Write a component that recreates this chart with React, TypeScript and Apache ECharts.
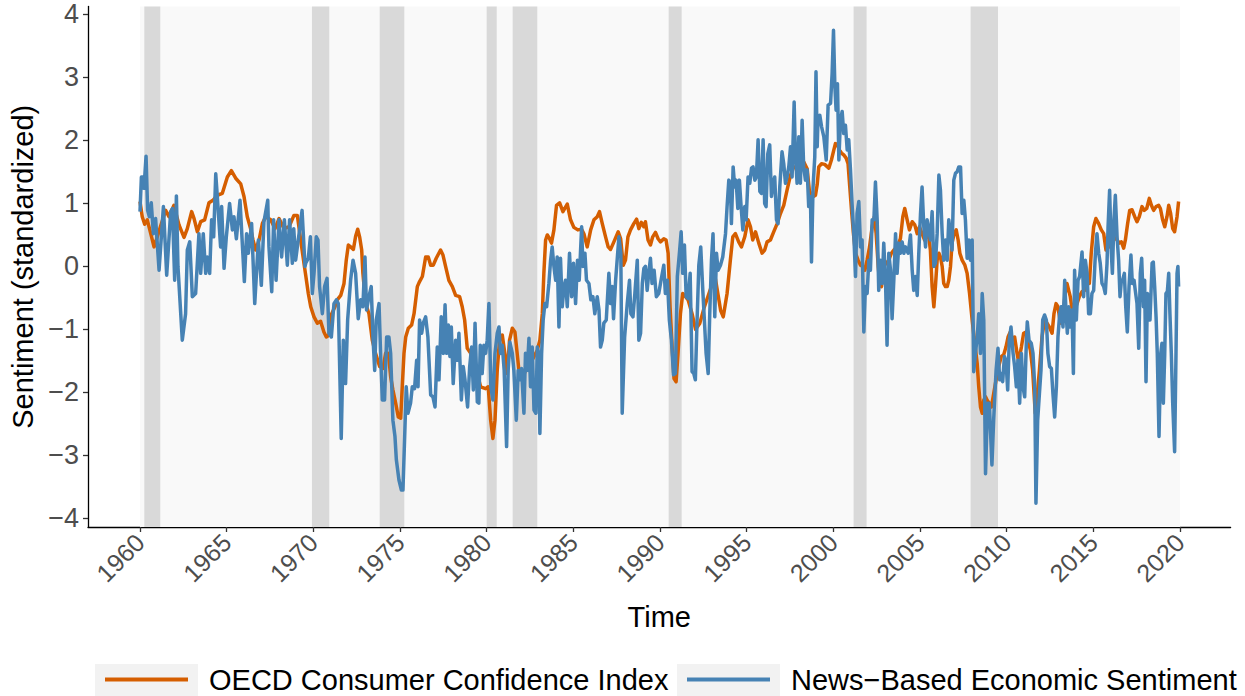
import React, { useEffect, useRef } from "react";
import * as echarts from "echarts";

const xTicks = [1960, 1965, 1970, 1975, 1980, 1985, 1990, 1995, 2000, 2005, 2010, 2015, 2020];
const yTicks = [-4, -3, -2, -1, 0, 1, 2, 3, 4];

const recessionStart = [1960.25, 1969.92, 1973.83, 1980.0, 1981.5, 1990.5, 2001.17, 2007.92];
const recessionEnd = [1961.17, 1970.92, 1975.25, 1980.58, 1982.92, 1991.25, 2001.92, 2009.5];

const oecdTime = [
  1960.0, 1960.13, 1960.27, 1960.42, 1960.62, 1960.81, 1961.0, 1961.2, 1961.48, 1961.67, 1961.96, 1962.25, 1962.54, 1962.73, 1962.98,
  1963.12, 1963.31, 1963.5, 1963.73, 1963.98, 1964.21, 1964.46, 1964.75, 1965.04, 1965.27, 1965.52, 1965.81, 1966.0, 1966.19,
  1966.38, 1966.52, 1966.67, 1966.87, 1967.06, 1967.25, 1967.54, 1967.79, 1968.02, 1968.31, 1968.6, 1968.88, 1969.08, 1969.27,
  1969.46, 1969.56, 1969.71, 1969.85, 1970.04, 1970.23, 1970.42, 1970.61, 1970.75, 1970.9, 1971.06, 1971.25, 1971.38, 1971.58,
  1971.77, 1971.9, 1972.02, 1972.15, 1972.31, 1972.44, 1972.56, 1972.67, 1972.79, 1972.86, 1973.02, 1973.21, 1973.4, 1973.59,
  1973.83, 1974.02, 1974.17, 1974.33, 1974.46, 1974.59, 1974.75, 1974.9, 1975.04, 1975.13, 1975.23, 1975.33, 1975.48, 1975.67,
  1975.81, 1976.0, 1976.13, 1976.29, 1976.48, 1976.63, 1976.77, 1976.92, 1977.09, 1977.34, 1977.48, 1977.63, 1977.82, 1978.02,
  1978.21, 1978.44, 1978.59, 1978.73, 1978.88, 1979.08, 1979.27, 1979.46, 1979.65, 1979.94, 1980.09, 1980.23, 1980.36, 1980.48,
  1980.61, 1980.74, 1980.9, 1981.05, 1981.19, 1981.32, 1981.48, 1981.63, 1981.76, 1981.86, 1982.05, 1982.3, 1982.6, 1982.92,
  1983.07, 1983.21, 1983.3, 1983.4, 1983.5, 1983.63, 1983.74, 1983.88, 1984.03, 1984.21, 1984.4, 1984.65, 1984.84, 1985.03,
  1985.26, 1985.48, 1985.61, 1985.8, 1986.0, 1986.19, 1986.38, 1986.51, 1986.67, 1986.86, 1987.01, 1987.15, 1987.34, 1987.59,
  1987.73, 1987.88, 1988.01, 1988.15, 1988.3, 1988.49, 1988.65, 1988.78, 1988.92, 1989.07, 1989.16, 1989.31, 1989.45, 1989.58,
  1989.74, 1989.89, 1990.03, 1990.22, 1990.35, 1990.47, 1990.58, 1990.7, 1990.81, 1990.93, 1991.04, 1991.18, 1991.31, 1991.47,
  1991.62, 1991.85, 1992.05, 1992.3, 1992.55, 1992.8, 1993.05, 1993.2, 1993.5, 1993.65, 1993.87, 1994.06, 1994.2, 1994.35,
  1994.54, 1994.7, 1994.89, 1995.08, 1995.22, 1995.35, 1995.51, 1995.7, 1995.89, 1996.04, 1996.18, 1996.37, 1996.56, 1996.76,
  1996.95, 1997.14, 1997.33, 1997.53, 1997.72, 1997.91, 1998.1, 1998.29, 1998.49, 1998.62, 1998.8, 1998.97, 1999.07, 1999.16,
  1999.32, 1999.5, 1999.74, 1999.89, 2000.03, 2000.12, 2000.24, 2000.35, 2000.47, 2000.6, 2000.74, 2000.85, 2000.95, 2001.05,
  2001.16, 2001.28, 2001.43, 2001.57, 2001.7, 2001.82, 2001.95, 2002.09, 2002.24, 2002.37, 2002.47, 2002.59, 2002.68, 2002.78,
  2002.91, 2003.05, 2003.2, 2003.35, 2003.49, 2003.68, 2003.87, 2004.01, 2004.12, 2004.26, 2004.39, 2004.55, 2004.7, 2004.84,
  2004.97, 2005.12, 2005.26, 2005.37, 2005.51, 2005.6, 2005.7, 2005.8, 2005.89, 2005.99, 2006.09, 2006.18, 2006.28, 2006.37,
  2006.47, 2006.57, 2006.66, 2006.76, 2006.85, 2006.97, 2007.09, 2007.2, 2007.3, 2007.43, 2007.59, 2007.72, 2007.86, 2008.01,
  2008.16, 2008.3, 2008.39, 2008.49, 2008.59, 2008.68, 2008.78, 2008.87, 2009.0, 2009.12, 2009.25, 2009.39, 2009.54, 2009.69,
  2009.83, 2009.96, 2010.08, 2010.21, 2010.35, 2010.46, 2010.6, 2010.69, 2010.85, 2010.98, 2011.12, 2011.23, 2011.37, 2011.5,
  2011.65, 2011.77, 2011.89, 2012.04, 2012.19, 2012.33, 2012.46, 2012.62, 2012.73, 2012.85, 2012.96, 2013.1, 2013.23, 2013.38,
  2013.48, 2013.58, 2013.67, 2013.81, 2013.92, 2014.06, 2014.19, 2014.35, 2014.5, 2014.64, 2014.77, 2014.88, 2015.02, 2015.15,
  2015.31, 2015.46, 2015.6, 2015.73, 2015.89, 2016.04, 2016.17, 2016.37, 2016.5, 2016.62, 2016.75, 2016.85, 2016.98, 2017.1,
  2017.23, 2017.39, 2017.52, 2017.65, 2017.81, 2017.94, 2018.08, 2018.23, 2018.35, 2018.48, 2018.62, 2018.77, 2018.87, 2019.0,
  2019.12, 2019.25, 2019.35, 2019.46, 2019.58, 2019.69, 2019.83, 2019.92,
];
const oecdValue = [
  1.03, 0.79, 0.67, 0.74, 0.52, 0.31, 0.47, 0.65, 0.89, 0.79, 0.97, 0.66, 0.46, 0.6, 0.87,
  0.76, 0.55, 0.71, 0.74, 1.01, 1.05, 1.13, 1.16, 1.42, 1.52, 1.4, 1.31, 1.11, 0.79,
  0.6, 0.42, 0.26, 0.42, 0.68, 0.79, 0.74, 0.6, 0.76, 0.6, 0.63, 0.81, 0.81, 0.42,
  0.05, -0.14, -0.43, -0.64, -0.8, -0.9, -0.87, -1.04, -1.12, -1.09, -0.75, -0.64, -0.53, -0.46,
  -0.27, 0.1, 0.34, 0.31, 0.27, 0.48, 0.59, 0.47, 0.26, -0.11, -0.59, -0.75, -1.17, -1.38,
  -1.59, -1.62, -1.38, -1.38, -1.75, -1.96, -2.17, -2.39, -2.41, -1.91, -1.38, -1.12, -0.98, -0.93,
  -0.75, -0.32, -0.24, -0.16, 0.15, 0.15, 0.02, 0.02, 0.13, 0.26, 0.18, 0.0, -0.22, -0.32,
  -0.46, -0.48, -0.64, -0.85, -1.3, -1.38, -1.59, -1.7, -1.91, -1.94, -1.91, -2.44, -2.73, -2.44,
  -1.65, -1.17, -1.09, -1.38, -1.7, -1.17, -0.98, -1.04, -1.38, -1.65, -1.8, -1.6, -1.5, -1.33,
  -1.17, -0.75, -0.11, 0.42, 0.5, 0.44, 0.37, 0.58, 0.97, 1.01, 0.87, 0.99, 0.74, 0.62,
  0.58, 0.59, 0.52, 0.31, 0.58, 0.74, 0.79, 0.87, 0.68, 0.47, 0.31, 0.27, 0.39, 0.55,
  0.44, 0.02, 0.1, 0.47, 0.58, 0.68, 0.75, 0.6, 0.7, 0.63, 0.71, 0.42, 0.34, 0.47,
  0.54, 0.44, 0.39, 0.44, 0.42, 0.21, -0.64, -1.28, -1.78, -1.83, -1.38, -0.75, -0.43, -0.48,
  -0.53, -0.75, -1.0, -0.9, -0.65, -0.45, -0.25, -0.2, -0.7, -0.8, -0.43, 0.1, 0.47, 0.52,
  0.39, 0.31, 0.47, 0.74, 0.63, 0.42, 0.55, 0.37, 0.21, 0.26, 0.39, 0.42, 0.55, 0.68,
  0.84, 0.97, 1.21, 1.45, 1.58, 1.58, 1.58, 1.66, 1.55, 1.2, 1.1, 1.13, 1.3, 1.58,
  1.63, 1.62, 1.56, 1.69, 1.85, 1.95, 1.93, 1.85, 1.8, 1.77, 1.72, 1.63, 1.26, 0.89,
  0.52, 0.21, 0.1, 0.02, 0.0, -0.06, 0.1, 0.31, 0.63, 0.79, 0.52, 0.0, -0.27, -0.32,
  0.0, 0.05, 0.1, 0.21, 0.26, 0.31, 0.44, 0.79, 0.92, 0.74, 0.58, 0.71, 0.66, 0.52,
  0.63, 0.52, 0.42, 0.47, 0.47, 0.26, -0.32, -0.64, -0.32, 0.1, 0.21, 0.15, 0.0, -0.27,
  -0.32, -0.32, -0.22, 0.0, 0.37, 0.52, 0.58, 0.42, 0.21, 0.1, 0.02, -0.11, -0.43, -0.85,
  -1.22, -1.54, -1.91, -2.23, -2.33, -2.12, -2.07, -2.12, -2.17, -2.23, -2.02, -1.8, -1.59, -1.43,
  -1.4, -1.28, -1.12, -1.04, -1.17, -1.12, -1.38, -1.51, -1.28, -1.06, -1.04, -1.17, -1.33, -1.65,
  -2.33, -2.02, -1.65, -1.12, -0.85, -0.9, -0.96, -1.06, -0.75, -0.59, -0.64, -0.9, -0.85, -0.43,
  -0.27, -0.38, -0.48, -0.75, -0.69, -0.59, -0.48, -0.4, -0.38, -0.27, -0.27, 0.21, 0.63, 0.76,
  0.68, 0.58, 0.52, 0.26, 0.31, 0.42, 0.47, 0.42, 0.37, 0.39, 0.29, 0.42, 0.68, 0.89,
  0.9, 0.79, 0.71, 0.79, 0.95, 0.89, 0.92, 1.08, 0.97, 0.89, 0.95, 0.97, 0.92, 0.74,
  0.63, 0.79, 0.97, 0.84, 0.6, 0.55, 0.79, 1.03,
];

const newsTime = [
  1960.0, 1960.08, 1960.17, 1960.23, 1960.35, 1960.44, 1960.54, 1960.65, 1960.77, 1960.9, 1961.1, 1961.35, 1961.54, 1961.77,
  1961.87, 1962.0, 1962.1, 1962.19, 1962.44, 1962.63, 1962.73, 1962.87, 1963.02, 1963.21, 1963.4, 1963.5, 1963.65, 1963.79,
  1963.88, 1964.02, 1964.13, 1964.25, 1964.37, 1964.46, 1964.65, 1964.71, 1964.85, 1964.98, 1965.17, 1965.33, 1965.42, 1965.56,
  1965.77, 1966.02, 1966.15, 1966.25, 1966.44, 1966.62, 1966.83, 1967.0, 1967.15, 1967.37, 1967.44, 1967.6, 1967.71, 1967.85,
  1968.02, 1968.17, 1968.33, 1968.5, 1968.63, 1968.79, 1968.87, 1968.98, 1969.35, 1969.52,
  1969.56, 1969.71, 1969.83, 1969.94, 1970.04, 1970.17, 1970.27, 1970.36, 1970.52, 1970.65, 1970.79, 1970.9, 1971.04, 1971.19,
  1971.33, 1971.44, 1971.61, 1971.73, 1971.86, 1971.98, 1972.15, 1972.29, 1972.44, 1972.59, 1972.73, 1972.86, 1972.98, 1973.07,
  1973.21, 1973.34, 1973.44, 1973.54, 1973.63, 1973.79, 1973.88, 1973.98, 1974.11, 1974.23, 1974.36, 1974.46, 1974.59, 1974.71,
  1974.79, 1974.94, 1975.08, 1975.17, 1975.27, 1975.36, 1975.46, 1975.61, 1975.71, 1975.84, 1975.96, 1976.04, 1976.13, 1976.25,
  1976.34, 1976.48, 1976.61, 1976.77, 1976.9, 1977.02, 1977.15, 1977.25, 1977.38, 1977.5, 1977.6, 1977.69, 1977.79, 1977.88,
  1977.96, 1978.07, 1978.21, 1978.31, 1978.4, 1978.54, 1978.65, 1978.75, 1978.9, 1979.02, 1979.13, 1979.23, 1979.33,
  1979.46, 1979.55, 1979.63, 1979.74, 1979.84, 1979.94, 1980.03, 1980.13, 1980.24, 1980.36, 1980.48, 1980.61, 1980.71, 1980.8,
  1980.9, 1981.01, 1981.15, 1981.24, 1981.34, 1981.48, 1981.57, 1981.71, 1981.82, 1981.92, 1982.01, 1982.15, 1982.24, 1982.34,
  1982.44, 1982.53, 1982.63, 1982.73, 1982.84, 1982.92, 1983.01, 1983.07, 1983.17, 1983.26, 1983.36, 1983.46, 1983.59, 1983.69,
  1983.78, 1983.88, 1983.98, 1984.07, 1984.17, 1984.26, 1984.36, 1984.46, 1984.55, 1984.65, 1984.78, 1984.9, 1985.01, 1985.13,
  1985.24, 1985.34, 1985.48, 1985.55, 1985.67, 1985.76, 1985.9, 1986.01, 1986.13, 1986.24, 1986.38, 1986.48, 1986.57, 1986.67,
  1986.76, 1986.9, 1987.05, 1987.15, 1987.24, 1987.32, 1987.44, 1987.63, 1987.74, 1987.82, 1987.96, 1988.11, 1988.24, 1988.32,
  1988.44, 1988.55, 1988.69, 1988.78, 1988.88, 1988.98, 1989.07,
  1989.16, 1989.26, 1989.35, 1989.45, 1989.54, 1989.66, 1989.79, 1989.93, 1990.06, 1990.22, 1990.31, 1990.43, 1990.54, 1990.66,
  1990.78, 1990.89, 1991.0, 1991.12, 1991.22, 1991.31, 1991.41, 1991.51, 1991.62, 1991.74, 1991.85, 1991.95, 1992.04, 1992.14,
  1992.24, 1992.35, 1992.47, 1992.56, 1992.66, 1992.78, 1992.87, 1992.97, 1993.06, 1993.16, 1993.26, 1993.35, 1993.49, 1993.62,
  1993.78, 1993.87, 1993.97, 1994.06, 1994.12, 1994.22, 1994.31, 1994.39, 1994.49, 1994.58, 1994.68, 1994.78, 1994.89, 1994.97,
  1995.08, 1995.18, 1995.28, 1995.37, 1995.47, 1995.56, 1995.66, 1995.76, 1995.85, 1995.95, 1996.04, 1996.12, 1996.22, 1996.33,
  1996.43, 1996.53, 1996.62, 1996.72, 1996.81, 1996.91, 1997.04, 1997.14, 1997.24, 1997.33, 1997.43, 1997.53, 1997.62, 1997.74,
  1997.81, 1997.91, 1998.01, 1998.1, 1998.2, 1998.29, 1998.39, 1998.49, 1998.58, 1998.68, 1998.74, 1998.83, 1998.93, 1999.0,
  1999.07, 1999.12, 1999.22, 1999.32, 1999.45, 1999.59, 1999.7, 1999.84, 1999.93, 2000.01, 2000.09, 2000.16, 2000.24, 2000.32,
  2000.41, 2000.51, 2000.6, 2000.7, 2000.8, 2000.89, 2000.99, 2001.09, 2001.18, 2001.28, 2001.37, 2001.47, 2001.57, 2001.66,
  2001.76, 2001.85, 2001.95, 2002.05, 2002.14, 2002.24, 2002.34, 2002.43, 2002.53, 2002.62, 2002.72, 2002.82, 2002.91, 2003.01,
  2003.1, 2003.2, 2003.3, 2003.39, 2003.49, 2003.59, 2003.68, 2003.78, 2003.87, 2003.97, 2004.07, 2004.16, 2004.32, 2004.45,
  2004.55, 2004.64, 2004.74, 2004.84, 2004.93, 2005.03, 2005.12, 2005.22, 2005.32, 2005.41, 2005.51, 2005.6, 2005.7, 2005.8,
  2005.89, 2005.99, 2006.09, 2006.18, 2006.28, 2006.37, 2006.47, 2006.57, 2006.66, 2006.76, 2006.85, 2006.95, 2007.05, 2007.14,
  2007.24, 2007.34, 2007.43, 2007.53, 2007.62, 2007.72, 2007.82, 2007.91, 2008.01, 2008.1, 2008.2, 2008.3, 2008.39, 2008.49,
  2008.59, 2008.68, 2008.78, 2008.9, 2009.0, 2009.15,
  2009.25, 2009.39, 2009.5, 2009.6, 2009.69, 2009.77, 2009.87, 2009.96, 2010.06, 2010.15, 2010.25, 2010.37, 2010.46, 2010.56,
  2010.65, 2010.75, 2010.85, 2010.94, 2011.04, 2011.14, 2011.19, 2011.29, 2011.42, 2011.52, 2011.62, 2011.69, 2011.79, 2011.89,
  2011.98, 2012.08, 2012.19, 2012.29, 2012.38, 2012.48, 2012.58, 2012.67, 2012.77, 2012.87, 2012.96, 2013.06, 2013.15, 2013.25,
  2013.35, 2013.42, 2013.5, 2013.58, 2013.67, 2013.77, 2013.85, 2013.92, 2014.02, 2014.12, 2014.21, 2014.35, 2014.44, 2014.54,
  2014.64, 2014.73, 2014.83, 2014.92, 2015.02, 2015.12, 2015.21, 2015.31, 2015.4, 2015.5, 2015.6, 2015.69, 2015.79, 2015.85,
  2015.94, 2016.04, 2016.1, 2016.19, 2016.27, 2016.37, 2016.46, 2016.54, 2016.62, 2016.69, 2016.79, 2016.87, 2016.96, 2017.06,
  2017.17, 2017.25, 2017.35, 2017.42, 2017.52, 2017.62, 2017.71, 2017.79, 2017.89, 2017.96, 2018.04, 2018.12, 2018.19, 2018.27,
  2018.39, 2018.46, 2018.54, 2018.62, 2018.69, 2018.79, 2018.89, 2018.96, 2019.04, 2019.12, 2019.19, 2019.27, 2019.35, 2019.42,
  2019.5, 2019.58, 2019.69, 2019.77, 2019.83, 2019.88, 2019.92,
];
const newsValue = [
  0.87, 1.42, 1.42, 1.24, 1.75, 0.89, 0.79, 1.01, 0.52, 0.76, -0.06, 0.95, -0.14, 0.87,
  0.92, -0.22, 1.12, 0.0, -1.17, -0.75, 0.26, 0.39, -0.48, -0.43, 0.52, -0.11, 0.52, -0.11,
  0.15, -0.11, 0.74, 0.47, 1.47, 1.11, 0.31, 0.95, -0.03, 0.47, 1.0, 0.58, 0.79, 0.44,
  1.05, -0.24, 0.52, 0.21, 0.68, -0.59, 0.42, -0.3, 0.71, 1.05, 0.31, -0.4, 0.74, -0.22,
  0.74, 0.15, 0.74, 0.02, 0.74, 0.05, 0.6, 0.1, 0.89, 0.0,
  0.05, 0.13, 0.47, -0.43, -0.11, 0.47, 0.42, -0.32, -0.75, -0.32, -0.19, -1.06, -1.12, -0.59,
  -0.53, -0.59, -2.73, -1.17, -1.86, -0.85, -0.22, 0.1, -0.11, -0.83, -0.53, -0.64, 0.15, -0.69,
  -0.48, -0.32, -1.12, -1.65, -0.85, -0.59, -1.38, -2.12, -2.12, -1.12, -1.12, -1.38, -2.44, -2.7,
  -3.07, -3.39, -3.55, -3.55, -2.7, -1.91, -2.33, -2.17, -1.91, -1.94, -1.49, -1.91, -0.85, -1.06,
  -0.9, -0.8, -1.12, -2.04, -2.07, -2.23, -1.28, -1.8, -0.8, -1.38, -0.61, -1.38, -0.93, -1.43,
  -0.96, -1.86, -1.17, -1.49, -1.06, -2.12, -1.59, -1.8, -2.23, -1.59, -1.28, -1.96, -0.9,
  -2.15, -2.17, -1.25, -1.7, -1.25, -1.38, -1.17, -0.59, -1.91, -2.12, -1.38, -1.06, -0.96, -1.38,
  -1.25, -1.65, -2.86, -1.65, -1.2, -1.38, -1.65, -2.44, -1.65, -1.8, -1.62, -2.33, -1.38, -1.65,
  -1.14, -1.91, -1.28, -2.28, -2.33, -1.28, -1.38, -2.65, -1.38, -0.85, -0.59, -0.64, -0.27, 0.1,
  0.31, 0.0, -0.22, 0.15, -0.96, 0.13, -0.64, -0.32, -0.22, -0.64, 0.21, -0.48, 0.05, -0.59,
  0.1, -0.22, 0.63, 0.0, 0.21, -0.22, -0.27, -0.53, -0.48, -0.75, -0.48, -0.69, -1.28, -1.17,
  -0.9, -0.85, -0.11, -0.59, -0.32, -0.83, -0.22, 0.47, 0.21, -2.33, -1.12, -0.59, -0.22, -0.75,
  -0.8, -0.43, 0.1, -1.17, -1.06, -0.27, -0.03,
  0.0, -0.38, -0.11, 0.13, -0.27, -0.06, -0.48, -0.43, -0.22, 0.02, -0.43, -0.22, -0.85, -1.17,
  -1.72, -1.7, -0.16, 0.21, 0.55, -0.11, 0.34, -0.48, -0.51, -0.11, -1.67, -1.7, -1.8, -0.85,
  0.02, 0.31, -0.38, -0.85, -1.38, -1.7, -0.75, 0.1, 0.52, -0.8, 0.21, -0.06, 0.02, 0.15,
  0.52, 0.95, 1.37, 1.32, 0.68, 1.58, 1.26, 1.37, 0.92, 1.37, 0.95, 0.58, 0.95, 0.74,
  1.42, 1.32, 1.56, 1.58, 1.37, 1.42, 2.01, 1.19, 1.16, 2.01, 1.0, 0.95, 1.79, 1.93,
  1.11, 1.32, 1.42, 0.74, 0.68, 1.26, 1.82, 1.63, 1.32, 1.42, 1.58, 1.9, 1.42, 2.61,
  1.79, 1.32, 2.06, 1.32, 2.32, 1.58, 1.37, 1.53, 0.95, 1.11, 0.07, 1.26, 1.74, 3.09,
  1.9, 2.38, 2.4, 2.22, 2.06, 1.69, 2.56, 2.59, 3.06, 3.75, 2.85, 2.48, 2.9, 1.69,
  2.32, 2.46, 2.11, 2.24, 1.85, 2.01, 1.53, 0.95, 0.52, -0.16, 0.84, 1.03, 0.31, 0.42,
  -1.04, -0.32, -0.43, 0.1, -0.06, 0.74, 0.74, 1.34, 0.74, -0.38, 0.1, -0.27, 0.37, -0.22,
  -1.25, 0.21, -0.06, -0.83, -0.22, 0.52, -0.11, 0.37, 0.21, 0.39, 0.21, 0.31, 0.21, 0.5,
  -0.06, -0.38, -0.16, -0.46, 0.21, 0.84, 1.26, 0.63, 0.31, 0.74, 0.58, 0.42, 0.87, 0.0,
  0.05, 0.52, 1.45, 1.21, 0.52, 0.1, 0.42, 0.1, 0.74, 0.52, 0.26, 1.37, 1.48, 1.5,
  1.58, 1.58, 0.84, 1.05, 0.74, 0.13, 0.42, 0.1, 0.42, -1.67, -1.38, -1.12, -0.75, -1.38,
  -0.43, -0.85, -3.29, -2.17, -2.17, -3.15,
  -2.44, -1.65, -1.3, -1.8, -1.7, -1.83, -1.43, -1.49, -1.96, -1.17, -0.96, -1.38, -1.59, -1.91,
  -1.49, -2.17, -1.38, -1.91, -2.07, -1.17, -0.88, -1.17, -1.22, -1.38, -1.91, -3.76, -2.44, -2.02,
  -1.65, -0.85, -0.77, -0.85, -1.38, -1.59, -1.62, -2.02, -2.39, -1.91, -1.12, -0.75, -0.64, -0.96,
  -0.22, -0.69, -1.06, -0.64, -0.96, -0.69, -1.7, -0.06, -0.85, -0.22, -0.16, 0.23, -0.48, 0.1,
  -0.11, -0.75, -0.75, -0.43, -0.38, 0.21, 0.52, 0.21, 0.05, -0.27, -0.32, -0.43, 0.05, 0.63,
  1.21, 0.21, -0.11, 0.74, 1.13, 0.47, 0.1, -0.48, -0.22, -0.22, -0.11, -0.64, -1.04, -0.32,
  0.18, -0.27, -0.22, -0.38, -0.59, -1.3, -0.11, 0.13, -0.64, -0.22, -1.83, -0.43, -0.48, -0.85,
  0.05, 0.07, -0.32, -0.8, -1.38, -2.7, -1.38, -1.22, -2.17, -1.38, -0.43, -0.4, -0.11, -0.75,
  -1.38, -2.17, -2.94, -1.38, -0.11, 0.0, -0.32,
];

const OECD_NAME = "OECD Consumer Confidence Index";
const NEWS_NAME = "News\u2212Based Economic Sentiment";
const FONT = "'Liberation Sans', Arial, Helvetica, sans-serif";

export default function App() {
  const ref = useRef<HTMLDivElement>(null);

  useEffect(() => {
    if (!ref.current) return;
    const chart = echarts.init(ref.current, null, { renderer: "svg" });

    const oecdData = oecdTime.map((t, i) => [t, oecdValue[i]]);
    const newsData = newsTime.map((t, i) => [t, newsValue[i]]);
    const areas: any[] = [
      [{ xAxis: 1960, itemStyle: { color: "#f9f9f9" } }, { xAxis: 2020 }],
    ];
    recessionStart.forEach((s, i) => {
      areas.push([{ xAxis: s, itemStyle: { color: "#d9d9d9" } }, { xAxis: recessionEnd[i] }]);
    });

    const legendCommon = {
      orient: "horizontal",
      top: 665,
      itemWidth: 83,
      itemHeight: 4,
      itemGap: 0,
      padding: 0,
      selectedMode: false,
      textStyle: { fontSize: 29, color: "#000", fontFamily: FONT, padding: [0, 0, 0, 16] },
    };

    chart.setOption({
      animation: false,
      textStyle: { fontFamily: FONT },
      grid: { left: 87, right: 14.4, top: 6.5, bottom: 169, containLabel: false },
      xAxis: {
        type: "value",
        min: 1957,
        max: 2022.92,
        name: "Time",
        nameLocation: "middle",
        nameGap: 75,
        nameTextStyle: { fontSize: 29, color: "#000", fontFamily: FONT },
        axisLine: { show: true, onZero: false, lineStyle: { color: "#000", width: 1.3 } },
        axisTick: { show: true, customValues: xTicks, length: 5, lineStyle: { color: "#333", width: 1.3 } },
        axisLabel: {
          customValues: xTicks,
          rotate: 45,
          fontSize: 25,
          color: "#4d4d4d",
          margin: 11,
          fontFamily: FONT,
          formatter: (v: number) => String(v),
        },
        splitLine: { show: false },
      },
      yAxis: {
        type: "value",
        min: -4.136,
        max: 4.126,
        name: "Sentiment (standardized)",
        nameLocation: "middle",
        nameGap: 51,
        nameTextStyle: { fontSize: 29, color: "#000", fontFamily: FONT },
        axisLine: { show: true, onZero: false, lineStyle: { color: "#000", width: 1.3 } },
        axisTick: { show: true, customValues: yTicks, length: 5, lineStyle: { color: "#333", width: 1.3 } },
        axisLabel: {
          customValues: yTicks,
          fontSize: 27,
          color: "#4d4d4d",
          margin: 9,
          fontFamily: FONT,
          formatter: (v: number) => String(v).replace("-", "\u2212"),
        },
        splitLine: { show: false },
      },
      legend: [
        { ...legendCommon, left: 105, data: [{ name: OECD_NAME, icon: "rect" }] },
        { ...legendCommon, left: 687, data: [{ name: NEWS_NAME, icon: "rect" }] },
      ],
      graphic: [
        { type: "rect", z: 0, shape: { x: 95, y: 664, width: 103, height: 40 }, style: { fill: "#f2f2f2" } },
        { type: "rect", z: 0, shape: { x: 677, y: 664, width: 103, height: 40 }, style: { fill: "#f2f2f2" } },
      ],
      series: [
        {
          type: "line",
          name: "shading",
          data: [],
          silent: true,
          z: 1,
          markArea: { silent: true, data: areas },
        },
        {
          type: "line",
          name: OECD_NAME,
          data: oecdData,
          showSymbol: false,
          symbol: "none",
          z: 3,
          lineStyle: { color: "#D55E00", width: 3.5, join: "round" },
          itemStyle: { color: "#D55E00" },
        },
        {
          type: "line",
          name: NEWS_NAME,
          data: newsData,
          showSymbol: false,
          symbol: "none",
          z: 4,
          lineStyle: { color: "#4682B4", width: 3.5, join: "round" },
          itemStyle: { color: "#4682B4" },
        },
      ],
    });

    return () => chart.dispose();
  }, []);

  return (
    <div
      ref={ref}
      style={{ position: "fixed", left: 0, top: 0, width: 1245, height: 696, background: "#fff" }}
    />
  );
}
